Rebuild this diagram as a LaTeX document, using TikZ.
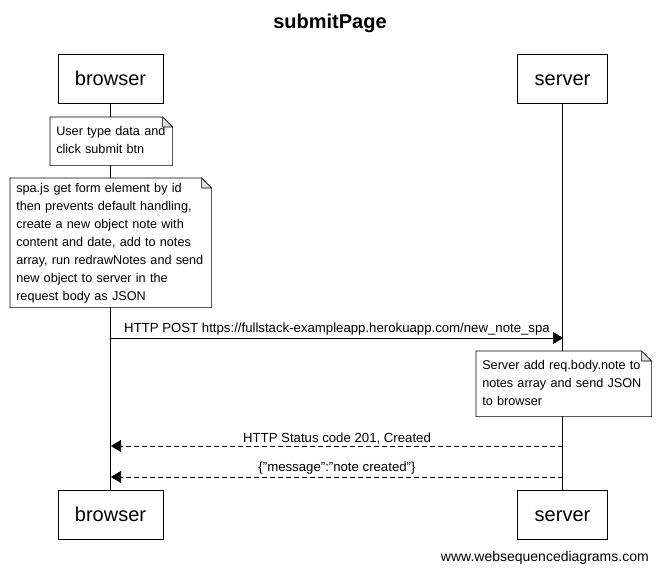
\documentclass[tikz,border=0pt]{standalone}
\usepackage{fontspec}
\setmainfont{Liberation Sans}
\usetikzlibrary{positioning,arrows.meta,backgrounds}

\tikzset{
    actor/.style={draw, fill=white, font=\fontsize{15}{18}\selectfont, inner xsep=12.75pt, text height=10.8pt, text depth=0pt, minimum height=36.75pt},
    notebox/.style={fill=white, align=left, anchor=north west, inner xsep=4.5pt, inner ysep=0pt, font=\fontsize{9.5}{13.5}\selectfont},
    msg/.style={-{Triangle[length=7.5pt,width=9pt]}},
    reply/.style={msg, dash pattern=on 3.75pt off 2.25pt},
    lbl/.style={font=\fontsize{9.9}{12}\selectfont, above, inner sep=1.5pt}
}
\newcommand{\notelines}[1]{\begin{tabular}{@{}l@{}}#1\end{tabular}}
\newcommand{\notefold}[1]{%
    \draw (#1.south west) -- (#1.north west) -- ([xshift=-7.5pt]#1.north east)
        -- ([yshift=-7.5pt]#1.north east) -- (#1.south east) -- cycle;
    \draw[fill=black!12] ([xshift=-7.5pt]#1.north east) |- ([yshift=-7.5pt]#1.north east) -- cycle;
}

\begin{document}
\begin{tikzpicture}[x=0.75pt, y=-0.75pt]
    \useasboundingbox (0,0) rectangle (659,573);

    % Title
    \node (title) [anchor=base, font=\fontsize{15}{18}\selectfont\bfseries] at (330,29) {submitPage};

    % Participants
    \node (browser_top) [actor] at (110.5,78.5) {browser};
    \node (server_top) [actor] at (562.5,78.5) {server};
    \node (browser_bot) [actor] at (110.5,514.5) {browser};
    \node (server_bot) [actor] at (562.5,514.5) {server};

    % Lifelines
    \begin{scope}[on background layer]
        \draw (browser_top) -- (browser_bot);
        \draw (server_top) -- (server_bot);
    \end{scope}

    % Notes
    \node (note_user) [notebox, text width=82.5pt, minimum height=36pt] at (50,117)
        {\notelines{User type data and\\click submit btn}};
    \notefold{note_user}
    \node (note_spa) [notebox, text width=141.75pt, minimum height=96.75pt] at (10,178)
        {\notelines{spa.js get form element by id\\then prevents default handling,\\create a new object note with\\content and date, add to notes\\array, run redrawNotes and send\\new object to server in the\\request body as JSON}};
    \notefold{note_spa}
    \node (note_server) [notebox, text width=122.25pt, minimum height=48.75pt] at (476,351)
        {\notelines{Server add req.body.note to\\notes array and send JSON\\to browser}};
    \notefold{note_server}

    % Message end points
    \coordinate (post_b) at (111,338);
    \coordinate (post_s) at (563,338);
    \coordinate (created_s) at (563,446);
    \coordinate (created_b) at (111,446);
    \coordinate (json_s) at (563,477);
    \coordinate (json_b) at (111,477);

    % Messages
    \draw[msg] (post_b) -- (post_s) node[midway, lbl] {HTTP POST https://fullstack-exampleapp.herokuapp.com/new\_note\_spa};
    \draw[reply] (created_s) -- (created_b) node[midway, lbl] {HTTP Status code 201, Created};
    \draw[reply] (json_s) -- (json_b) node[midway, lbl] {\{"message":"note created"\}};

    % Footer
    \node (footer) [anchor=base east, inner sep=0pt, font=\fontsize{10.5}{13.5}\selectfont] at (649,561) {www.websequencediagrams.com};

\end{tikzpicture}
\end{document}
